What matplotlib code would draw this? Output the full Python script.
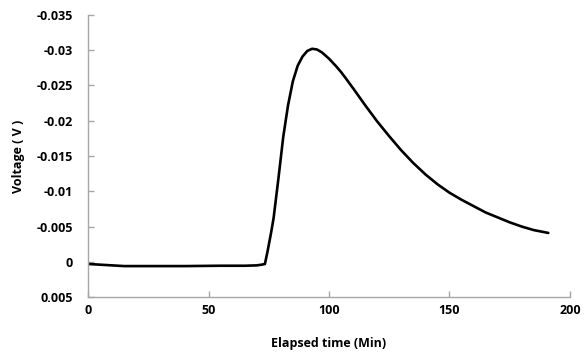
import matplotlib
matplotlib.use("Agg")
import matplotlib.pyplot as plt
import numpy as np

# Elapsed time (min) and voltage (V)
time_min = [0, 5, 10, 15, 25, 40, 55, 65, 70, 72, 73.4, 74.5, 76, 77, 79, 81, 83, 85, 87, 89,
            91, 93, 95, 97, 100, 103, 105, 107, 110, 115, 120, 125, 130, 135, 140, 145,
            150, 155, 160, 165, 170, 175, 180, 185, 191]
voltage = [0.0003, 0.0004, 0.0005, 0.0006, 0.0006, 0.0006, 0.00055, 0.00055, 0.0005, 0.0004, 0.0003,
           -0.0015, -0.0042, -0.0062, -0.0118, -0.0177, -0.0222, -0.0256, -0.0278, -0.0291,
           -0.0299, -0.0302, -0.0301, -0.0297, -0.0288, -0.0277, -0.0269, -0.0260, -0.0246,
           -0.0222, -0.0199, -0.0178, -0.0158, -0.0140, -0.0124, -0.0110,
           -0.0098, -0.0088, -0.0079, -0.0070, -0.0063, -0.0056, -0.0050, -0.0045, -0.0041]

xticks = [0, 50, 100, 150, 200]
yticks = [-0.035, -0.03, -0.025, -0.02, -0.015, -0.01, -0.005, 0, 0.005]
ytick_labels = ["-0.035", "-0.03", "-0.025", "-0.02", "-0.015", "-0.01", "-0.005", "0", "0.005"]

plt.rcParams['font.family'] = ['Open Sans', 'DejaVu Sans']

fig = plt.figure(figsize=(5.87, 3.55), dpi=100)
ax = fig.add_axes([0.150, 0.163, 0.821, 0.795])

ax.plot(time_min, voltage, color='black', linewidth=1.9, solid_capstyle='round')

ax.set_xlim(0, 200)
ax.set_ylim(0.005, -0.035)
ax.set_xticks(xticks)
ax.set_xticklabels([str(t) for t in xticks])
ax.set_yticks(yticks)
ax.set_yticklabels(ytick_labels)

for s in ['top', 'right']:
    ax.spines[s].set_visible(False)
for s in ['left', 'bottom']:
    ax.spines[s].set_color('#a6a6a6')
    ax.spines[s].set_linewidth(1.0)

ax.tick_params(axis='both', direction='in', colors='#a6a6a6', length=4, width=1,
               labelcolor='black', labelsize=9)
ax.tick_params(axis='x', pad=5)
ax.tick_params(axis='y', pad=11)
for lbl in ax.get_xticklabels() + ax.get_yticklabels():
    lbl.set_fontweight('bold')

ax.set_xlabel('Elapsed time (Min)', fontsize=9, fontweight='bold', labelpad=14)
ax.set_ylabel('Voltage ( V )', fontsize=9, fontweight='bold', labelpad=8)

fig.savefig('out.png', dpi=100)
